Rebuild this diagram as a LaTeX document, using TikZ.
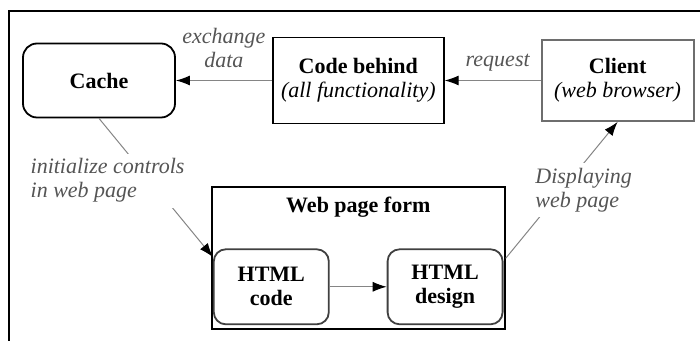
\documentclass[tikz,border=0pt]{standalone}
\usepackage{fontspec}
\setmainfont{Liberation Serif}[ItalicFont={Liberation Serif Italic}, BoldFont={Liberation Serif Bold}]
\usetikzlibrary{positioning,arrows.meta}
\definecolor{linegray}{HTML}{858585}
\definecolor{textgray}{HTML}{555555}
\definecolor{boxgray}{HTML}{6E6E6E}
\newcommand{\diagfont}{\fontsize{11pt}{12pt}\selectfont}

\begin{document}
\begin{tikzpicture}[x=0.5pt, y=-0.5pt]
    \tikzstyle{every node}=[font=\diagfont, align=center]
    \tikzset{
        n/.style={draw, line width=0.9pt, minimum height=37pt, minimum width=76pt},
        rn/.style={n, rounded corners=7pt},
        hn/.style={rn, draw=black!75, rounded corners=6pt, minimum width=57.5pt, minimum height=37.5pt},
        lbl/.style={text=textgray, font=\diagfont\itshape, inner ysep=2.5pt},
        con/.style={draw=linegray, line width=0.5pt, -{Latex[length=7pt, width=5pt, color=black]}}
        }

    \useasboundingbox (0,0) rectangle (700,341);

    %frame
    \draw[line width=1pt] (8.5,341) -- (8.5,11) -- (700,11);

    %cache
    \node (cache) [rn] at (99,80.5) {\textbf{Cache}};

    %code behind
    \node (code) [n, minimum width=85.5pt, minimum height=43pt, inner xsep=2pt, right=48pt of cache] {\textbf{Code behind}\\\textit{(all functionality)}};

    %client
    \node (client) [n, draw=boxgray, minimum height=40.5pt, right=48pt of code] {\textbf{Client}\\\textit{(web browser)}};

    %web page form
    \node (form) [n, minimum width=146.5pt, minimum height=71pt, below=31pt of code] {};
    \node (title) [below=2pt of form.north] {\textbf{Web page form}};

    %html boxes
    \node (htmlcode) [hn, above right=2.5pt and 1pt of form.south west] {\textbf{HTML}\\\textbf{code}};
    \node (htmldesign) [hn, right=28.5pt of htmlcode] {\textbf{HTML}\\\textbf{design}};

    \draw[con] (code.west) -- (cache.east) node[midway, above=3.5pt, lbl] {exchange\\data};
    \draw[con] (client.west) -- (code.east) node[midway, above=2pt, xshift=2.5pt, lbl] {request};
    \draw[con] (htmlcode.east) -- (htmldesign.west);

    % labelled lines
    \draw[con] (cache.south) -- (htmlcode.153) node[pos=0.449, xshift=-21.3pt, lbl, align=left, fill=white] {initialize controls\\in web page};
    \draw[con] (form.east) -- (client.south) node[pos=0.5, xshift=11pt, lbl, align=left, fill=white] {Displaying\\web page};
\end{tikzpicture}
\end{document}
